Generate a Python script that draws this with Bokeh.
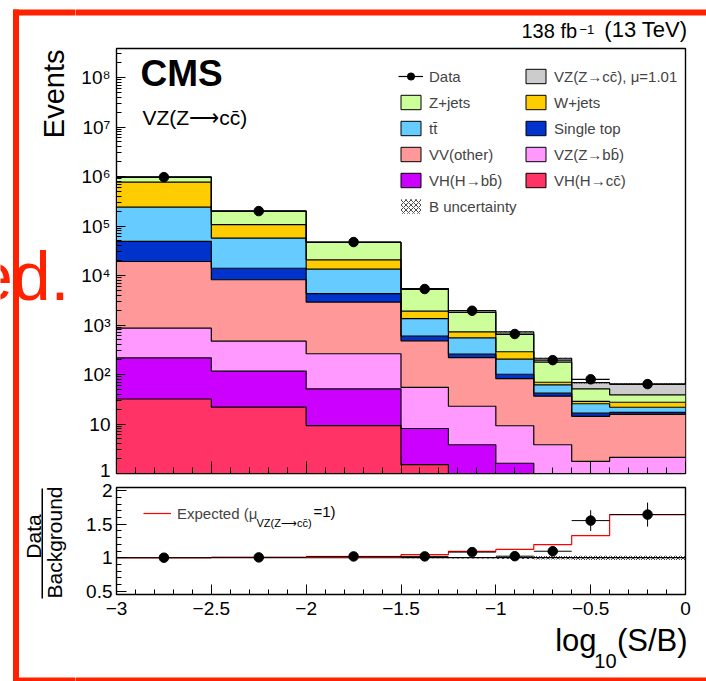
import numpy as np
from bokeh.plotting import figure
from bokeh.layouts import column, row
from bokeh.models import (Range1d, FixedTicker, SingleIntervalTicker, Label,
                          Legend, LegendItem, BoxAnnotation)
from bokeh.embed import file_html
from bokeh.resources import INLINE

# ---------------- data ----------------
edges = [-3.0, -2.5, -2.0, -1.5, -1.25, -1.0, -0.8, -0.6, -0.4, 0.0]

# background / signal components per bin (events)
vh_cc = [32, 22, 9.3, 1.5, 0.4, 0.2, 0.1, 0.05, 0.05]
vh_bb = [185, 95, 42, 6.6, 3.4, 1.4, 0.6, 0.35, 0.35]
vz_bb = [646, 354, 211, 47, 19, 7.6, 3.1, 1.35, 1.7]
vv_other = [18300, 7730, 2640, 424, 197, 73, 32.7, 12.5, 13.5]
single_top = [29800, 5800, 1400, 115, 37, 19, 5.4, 2.3, 1.5]
ttbar = [191000, 43000, 9100, 756, 293, 103, 20, 9.1, 4.7]
w_jets = [530000, 50000, 7300, 550, 178, 84, 7.9, 2.9, 5.7]
z_jets = [200000, 92000, 25800, 3325, 1062, 355, 108, 22.9, 11.4]
vz_cc = [1800, 1100, 470, 235, 168, 80, 35, 17, 25]

data = [970000, 200000, 47400, 5330, 1940, 658, 195, 80, 64]
data_err = [1000, 450, 220, 80, 45, 26, 14, 8, 7]
bkg_rel_unc = [0.004, 0.004, 0.006, 0.008, 0.01, 0.02, 0.025, 0.035, 0.035]

y_ticks_main = [1, 10, 100, 1e3, 1e4, 1e5, 1e6, 1e7, 1e8]
y_labels_main = ["1", "10", "10\u00b2", "10\u00b3", "10\u2074", "10\u2075",
                 "10\u2076", "10\u2077", "10\u2078"]
x_ticks = [-3, -2.5, -2, -1.5, -1, -0.5, 0]
x_labels = ["\u22123", "\u22122.5", "\u22122", "\u22121.5", "\u22121", "\u22120.5", "0"]
r_ticks = [0.5, 1, 1.5, 2]
r_labels = ["0.5", "1", "1.5", "2"]

layers = [  # bottom -> top
    ("VH(H\u2192cc\u0304)", vh_cc, "#ff3366"),
    ("VH(H\u2192bb\u0304)", vh_bb, "#cc00ff"),
    ("VZ(Z\u2192bb\u0304)", vz_bb, "#ff99ff"),
    ("VV(other)", vv_other, "#ff9999"),
    ("Single top", single_top, "#0033cc"),
    ("tt\u0304", ttbar, "#66ccff"),
    ("W+jets", w_jets, "#ffcc00"),
    ("Z+jets", z_jets, "#ccff99"),
    ("VZ(Z\u2192cc\u0304), \u03bc=1.01", vz_cc, "#cccccc"),
]

# ---------------- geometry (page pixels) ----------------
FONT = "Liberation Sans"
RED = "#ff2200"
PAGE_W, PAGE_H = 706, 681
LW = 75                  # left strip width
MW = PAGE_W - LW         # width of main column
TOP_H = 47
L, R = 116, 685          # frame left/right (page)
T1, B1 = 48, 473         # main frame top/bottom (page)
T2, B2 = 487, 594        # ratio frame top/bottom (page)
P1_H = 433               # 47..480
P2_H = 145               # 480..625
BOT_Y0 = TOP_H + P1_H + P2_H
BOT_H = PAGE_H - BOT_Y0
DEC = 49.5               # px per decade
YMAX = 10 ** ((B1 - T1) / DEC)
Y2MIN, Y2MAX = 0.45, 2.05

e = np.array(edges)
centers = (e[:-1] + e[1:]) / 2


def strip(w, h, x0, y0):
    s = figure(width=w, height=h, output_backend="svg", toolbar_location=None, title=None,
               x_range=Range1d(x0, x0 + w), y_range=Range1d(y0 + h, y0),
               x_axis_location=None, y_axis_location=None, min_border=0,
               frame_align=False)
    s.grid.visible = False
    s.outline_line_color = None
    s.background_fill_color = "white"
    s.border_fill_color = "white"
    return s


def style_axis(ax, mj, mn):
    ax.major_tick_in = mj
    ax.major_tick_out = 0
    ax.minor_tick_in = mn
    ax.minor_tick_out = 0
    ax.axis_line_color = "black"
    ax.major_tick_line_color = "black"
    ax.minor_tick_line_color = "black"
    ax.major_label_text_font = FONT
    ax.major_label_text_font_size = "19px"
    ax.major_label_text_color = "black"


# ---------------- main figure ----------------
p1 = figure(width=MW, height=P1_H, output_backend="svg", toolbar_location=None,
            title=None, x_range=Range1d(-3, 0), y_range=Range1d(1, YMAX),
            y_axis_type="log", min_border_left=L - LW, min_border_right=PAGE_W - R,
            min_border_top=T1 - TOP_H, min_border_bottom=TOP_H + P1_H - B1)
p1.grid.visible = False
p1.outline_line_color = "black"
p1.outline_line_width = 1.4
p1.background_fill_color = "white"
p1.border_fill_color = "white"

proxies = {}
cum_prev = np.full(len(data), 0.01)
for name, vals, col in layers:
    cum = cum_prev + np.array(vals, dtype=float)
    p1.varea_step(x=e, y1=np.append(cum_prev, cum_prev[-1]), y2=np.append(cum, cum[-1]),
                  step_mode="after", fill_color=col)
    proxies[name] = p1.quad(left=e[:-1], right=e[1:], bottom=cum_prev, top=cum,
                            fill_color=col, line_color="black", line_width=1, visible=False)
    cum_prev = cum
total = cum_prev

cum_prev = np.full(len(data), 0.01)
for name, vals, col in layers:
    cum = cum_prev + np.array(vals, dtype=float)
    p1.step(x=e, y=np.append(cum, cum[-1]), mode="after", line_color="black", line_width=1.2)
    cum_prev = cum

rel = np.array(bkg_rel_unc)
r_unc = p1.quad(left=e[:-1], right=e[1:], top=total * (1 + rel), bottom=total * (1 - rel),
                fill_color=None, line_color=None, hatch_pattern="x", hatch_color="black",
                hatch_scale=5, hatch_weight=0.7)

d = np.array(data, dtype=float)
de = np.array(data_err, dtype=float)
r_hbar = p1.segment(x0=e[:-1], x1=e[1:], y0=d, y1=d, line_color="black", line_width=1.2)
p1.segment(x0=centers, x1=centers, y0=d - de, y1=d + de, line_color="black", line_width=1)
r_dots = p1.scatter(x=centers, y=d, size=9.5, color="black")

ya = p1.yaxis[0]
ya.ticker = FixedTicker(ticks=y_ticks_main,
                        minor_ticks=[m * 10 ** k for k in range(9) for m in range(2, 10)])
ya.major_label_overrides = {t: lab for t, lab in zip(y_ticks_main, y_labels_main)}
style_axis(ya, 9, 5)
ya.major_label_standoff = 6
xa = p1.xaxis[0]
xa.ticker = SingleIntervalTicker(interval=0.5, num_minor_ticks=5)
style_axis(xa, 12, 6)
xa.major_label_text_font_size = "1px"
xa.major_label_text_color = None
xa.major_label_standoff = 0

col1 = [("Data", [r_hbar, r_dots]), ("Z+jets", [proxies["Z+jets"]]),
        ("tt\u0304", [proxies["tt\u0304"]]), ("VV(other)", [proxies["VV(other)"]]),
        ("VH(H\u2192bb\u0304)", [proxies["VH(H\u2192bb\u0304)"]]),
        ("B uncertainty", [r_unc])]
col2 = [("VZ(Z\u2192cc\u0304), \u03bc=1.01", [proxies["VZ(Z\u2192cc\u0304), \u03bc=1.01"]]),
        ("W+jets", [proxies["W+jets"]]), ("Single top", [proxies["Single top"]]),
        ("VZ(Z\u2192bb\u0304)", [proxies["VZ(Z\u2192bb\u0304)"]]),
        ("VH(H\u2192cc\u0304)", [proxies["VH(H\u2192cc\u0304)"]])]


def make_legend(items, loc):
    return Legend(items=[LegendItem(label=lab, renderers=rs) for lab, rs in items],
                  location=loc, orientation="vertical", glyph_width=25, glyph_height=18,
                  label_height=18, spacing=8, label_standoff=6, padding=0, margin=0,
                  border_line_color=None, background_fill_alpha=0,
                  label_text_font=FONT, label_text_font_size="15px")


row_top = 67
p1.add_layout(make_legend(col1, (398 - L, B1 - (row_top + 6 * 18 + 5 * 8))))
p1.add_layout(make_legend(col2, (523 - L, B1 - (row_top + 5 * 18 + 4 * 8))))


def py_top(py):
    return 10 ** ((B1 - py) / DEC)


def px_x(px):
    return -3.0 + (px - L) * 3.0 / (R - L)


p1.add_layout(Label(x=px_x(140), y=py_top(93.5), text="CMS", text_font=FONT,
                    text_font_style="bold", text_font_size="37px", text_color="black"))
p1.add_layout(Label(x=px_x(142), y=py_top(128.5), text="VZ(Z\u27f6cc\u0304)", text_font=FONT,
                    text_font_size="21px", text_color="black"))

# ---------------- ratio figure ----------------
p2 = figure(width=MW, height=P2_H, output_backend="svg", toolbar_location=None,
            title=None, x_range=Range1d(-3, 0), y_range=Range1d(Y2MIN, Y2MAX),
            min_border_left=L - LW, min_border_right=PAGE_W - R,
            min_border_top=T2 - (TOP_H + P1_H), min_border_bottom=BOT_Y0 - B2)
p2.grid.visible = False
p2.outline_line_color = "black"
p2.outline_line_width = 1.4
p2.background_fill_color = "white"
p2.border_fill_color = "white"

bkg = np.array(z_jets) + np.array(w_jets) + np.array(ttbar) + np.array(single_top) + \
    np.array(vv_other) + np.array(vz_bb) + np.array(vh_bb) + np.array(vh_cc)
ratio = d / bkg
ratio_err = de / bkg
expected = (bkg + np.array(vz_cc)) / bkg
ones = bkg / bkg

p2.quad(left=e[:-1], right=e[1:], top=ones + rel, bottom=ones - rel,
        fill_color=None, line_color=None, hatch_pattern="x", hatch_color="black",
        hatch_scale=5, hatch_weight=0.7)
p2.step(x=e, y=np.append(ones, ones[-1]), mode="after", line_color="black", line_width=1.2)
r_exp = p2.step(x=e, y=np.append(expected, expected[-1]), mode="after",
                line_color="#ff0000", line_width=1.2)
p2.segment(x0=e[:-1], x1=e[1:], y0=ratio, y1=ratio, line_color="black", line_width=1)
p2.segment(x0=centers, x1=centers, y0=ratio - ratio_err, y1=ratio + ratio_err,
           line_color="black", line_width=1)
p2.scatter(x=centers, y=ratio, size=9.5, color="black")

ya2 = p2.yaxis[0]
ya2.ticker = SingleIntervalTicker(interval=0.5, num_minor_ticks=5)
ya2.major_label_overrides = {t: lab for t, lab in zip(r_ticks, r_labels)}
style_axis(ya2, 10, 5)
ya2.major_label_standoff = 4
xa2 = p2.xaxis[0]
xa2.ticker = SingleIntervalTicker(interval=0.5, num_minor_ticks=5)
xa2.major_label_overrides = {t: lab for t, lab in zip(x_ticks, x_labels)}
style_axis(xa2, 10, 5)
xa2.major_label_standoff = 7


def py_bot(py):
    return Y2MIN + (B2 - py) * (Y2MAX - Y2MIN) / (B2 - T2)


p2.add_layout(Legend(items=[LegendItem(label="Expected (\u03bc", renderers=[r_exp])],
                     location=(143 - L, B2 - 522), glyph_width=28, glyph_height=18,
                     label_height=18, label_standoff=6, padding=0, margin=0,
                     border_line_color=None, background_fill_alpha=0,
                     label_text_font=FONT, label_text_font_size="15px"))
p2.add_layout(Label(x=px_x(256), y=py_bot(528), text="VZ(Z\u27f6cc\u0304)", text_font=FONT,
                    text_font_size="11px", text_color="black"))
p2.add_layout(Label(x=px_x(313), y=py_bot(519.5), text="=1)", text_font=FONT,
                    text_font_size="15px", text_color="black"))

# ---------------- strips around the plots (page-pixel ranges) ----------------
pL = strip(LW, PAGE_H, 0, 0)
pL.add_layout(BoxAnnotation(left=12.5, right=18.5, top=9, bottom=PAGE_H + 5,
                            fill_color=RED, fill_alpha=1, line_color=None))
pL.add_layout(BoxAnnotation(left=12.5, right=LW + 5, top=9, bottom=15,
                            fill_color=RED, fill_alpha=1, line_color=None))
pL.add_layout(BoxAnnotation(left=12.5, right=LW + 5, top=677, bottom=PAGE_H + 5,
                            fill_color=RED, fill_alpha=1, line_color=None))
pL.add_layout(Label(x=69, y=313, text="ed.", text_font=FONT, text_font_size="68px",
                    text_align="right", text_color=RED))
pL.add_layout(Label(x=53, y=49, text="Events", text_font=FONT, text_font_size="29px",
                    angle=np.pi / 2, text_align="right", text_baseline="alphabetic",
                    text_color="black"))
pL.add_layout(Label(x=32.5, y=536, text="Data", text_font=FONT, text_font_size="21px",
                    angle=np.pi / 2, text_align="center", text_baseline="middle",
                    text_color="black"))
pL.add_layout(Label(x=53.5, y=542, text="Background", text_font=FONT, text_font_size="21px",
                    angle=np.pi / 2, text_align="center", text_baseline="middle",
                    text_color="black"))
pL.add_layout(BoxAnnotation(left=41, right=42.5, top=488, bottom=598,
                            fill_color="black", fill_alpha=1, line_color=None))

pT = strip(MW, TOP_H, LW, 0)
pT.add_layout(BoxAnnotation(left=LW - 5, right=PAGE_W + 5, top=9, bottom=15,
                            fill_color=RED, fill_alpha=1, line_color=None))
for fx in (208, 321):
    pT.add_layout(Label(x=fx, y=0, text="y", text_font=FONT, text_font_size="44px",
                        text_align="center", text_color="black"))
pT.add_layout(Label(x=521, y=41.5, text="138 fb", text_font=FONT,
                    text_font_size="20px", text_color="black"))
pT.add_layout(Label(x=579, y=33, text="\u22121", text_font=FONT,
                    text_font_size="13px", text_color="black"))
pT.add_layout(Label(x=687, y=41.5, text="(13 TeV)", text_font=FONT,
                    text_font_size="22px", text_align="right", text_color="black"))

pB = strip(MW, BOT_H, LW, BOT_Y0)
pB.add_layout(BoxAnnotation(left=LW - 5, right=PAGE_W + 5, top=677, bottom=PAGE_H + 5,
                            fill_color=RED, fill_alpha=1, line_color=None))
pB.add_layout(Label(x=596, y=657, text="log", text_font=FONT, text_font_size="31px",
                    text_align="right", text_color="black"))
pB.add_layout(Label(x=616, y=667, text="10", text_font=FONT, text_font_size="20px",
                    text_align="right", text_color="black"))
pB.add_layout(Label(x=687, y=657, text="(S/B)", text_font=FONT, text_font_size="31px",
                    text_align="right", text_color="black"))

layout = row(pL, column(pT, p1, p2, pB, spacing=0), spacing=0)
open("out.html", "w").write(file_html(layout, INLINE))
